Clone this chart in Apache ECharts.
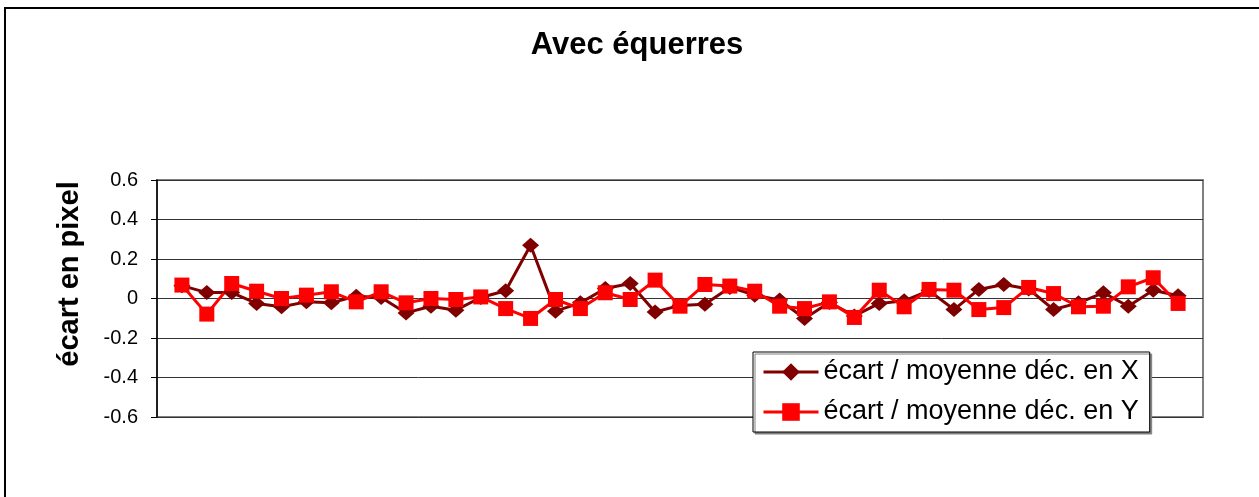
<!DOCTYPE html>
<html>
<head>
<meta charset="utf-8">
<script src="https://cdn.jsdelivr.net/npm/echarts@6/dist/echarts.min.js"></script>
<style>
html,body{margin:0;padding:0;background:#fff;}
#chart{width:1259px;height:497px;}
</style>
</head>
<body>
<div id="chart"></div>
<script>
var titleText = 'Avec équerres';
var yAxisTitle = 'écart en pixel';
var seriesNames = ['écart / moyenne déc. en X', 'écart / moyenne déc. en Y'];
var yTicks = { min: -0.6, max: 0.6, step: 0.2 };
var xRange = { min: 0, max: 42 };

var ecartX = [0.065, 0.030, 0.030, -0.025, -0.042, -0.017, -0.022, 0.012, 0.005, -0.073,
  -0.039, -0.059, 0.005, 0.039, 0.270, -0.064, -0.022, 0.051, 0.076, -0.068,
  -0.035, -0.029, 0.056, 0.017, -0.008, -0.101, -0.020, -0.088, -0.025, -0.012,
  0.040, -0.056, 0.046, 0.071, 0.048, -0.056, -0.022, 0.029, -0.039, 0.042, 0.014];

var ecartY = [0.068, -0.079, 0.076, 0.037, 0.000, 0.017, 0.034, -0.017, 0.034, -0.022,
  0.000, -0.005, 0.008, -0.051, -0.101, -0.005, -0.051, 0.029, -0.005, 0.093,
  -0.039, 0.071, 0.063, 0.037, -0.039, -0.051, -0.017, -0.096, 0.042, -0.042,
  0.046, 0.042, -0.056, -0.046, 0.056, 0.025, -0.042, -0.039, 0.059, 0.105, -0.025];

function toPairs(arr) {
  return arr.map(function (v, i) { return [i + 1, v]; });
}

var chart = echarts.init(document.getElementById('chart'));
var font = 'Liberation Sans, Arial, Helvetica, sans-serif';

chart.setOption({
  animation: false,
  backgroundColor: '#ffffff',
  grid: {
    left: 157, top: 180, right: 56, bottom: 80,
    show: true, borderColor: '#808080', borderWidth: 2, backgroundColor: 'transparent'
  },
  graphic: [
    {
      type: 'rect', z: -1, silent: true,
      shape: { x: 5, y: 8, width: 1400, height: 700 },
      style: { fill: 'none', stroke: '#000', lineWidth: 2 }
    },
    {
      type: 'text', silent: true,
      x: 637, y: 45,
      style: {
        text: titleText, fill: '#000',
        font: 'bold 31px ' + font,
        textAlign: 'center', textVerticalAlign: 'middle'
      }
    },
    {
      type: 'text', silent: true,
      x: 70, y: 274, rotation: Math.PI / 2,
      style: {
        text: yAxisTitle, fill: '#000',
        font: 'bold 29px ' + font,
        textAlign: 'center', textVerticalAlign: 'middle'
      }
    }
  ],
  legend: {
    orient: 'vertical',
    left: 753, top: 352,
    backgroundColor: '#fff',
    borderColor: '#000', borderWidth: 1,
    shadowColor: '#808080', shadowOffsetX: 2, shadowOffsetY: 2, shadowBlur: 0,
    padding: [5, 11, 5, 9],
    itemGap: 10,
    itemWidth: 55, itemHeight: 22,
    lineStyle: { width: 3 },
    textStyle: { fontFamily: font, fontSize: 27, color: '#000', lineHeight: 30 },
    data: seriesNames
  },
  xAxis: {
    type: 'value', min: xRange.min, max: xRange.max,
    axisLine: { show: false }, axisTick: { show: false },
    axisLabel: { show: false }, splitLine: { show: false }
  },
  yAxis: {
    type: 'value', min: yTicks.min, max: yTicks.max, interval: yTicks.step,
    axisLine: { show: true, onZero: false, lineStyle: { color: '#000', width: 1.5 } },
    axisTick: { show: true, length: 6, lineStyle: { color: '#000', width: 1 } },
    axisLabel: {
      margin: 19, color: '#000', fontFamily: font, fontSize: 20,
      formatter: function (v) { return String(Math.round(v * 10) / 10); }
    },
    splitLine: { show: true, lineStyle: { color: '#333', width: 1 } }
  },
  series: [
    {
      name: seriesNames[0], type: 'line',
      data: toPairs(ecartX),
      symbol: 'diamond', symbolSize: [17, 15],
      itemStyle: { color: '#800000' },
      lineStyle: { color: '#800000', width: 3 }
    },
    {
      name: seriesNames[1], type: 'line',
      data: toPairs(ecartY),
      symbol: 'rect', symbolSize: 15,
      itemStyle: { color: '#ff0000' },
      lineStyle: { color: '#ff0000', width: 3 }
    }
  ]
});
</script>
</body>
</html>
